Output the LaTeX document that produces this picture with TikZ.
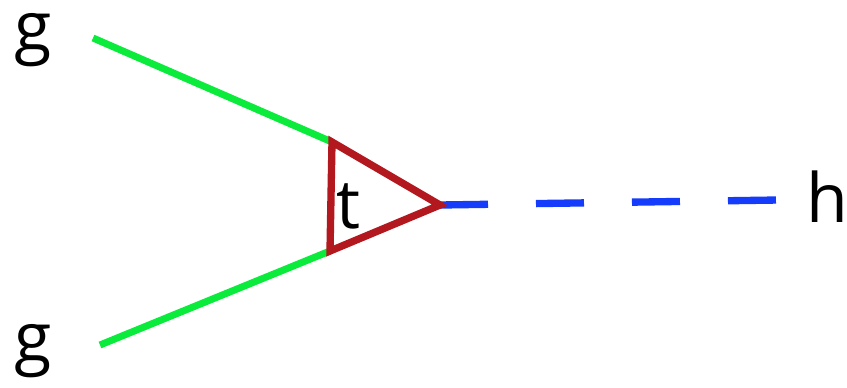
\documentclass[tikz,border=0pt]{standalone}
\usepackage{fontspec}
\setmainfont{Open Sans}
\definecolor{gluon}{RGB}{10,235,60}
\definecolor{topq}{RGB}{178,24,30}
\definecolor{higgs}{RGB}{20,60,250}
\tikzset{
  lbl/.style={anchor=base west,inner sep=0pt,font=\fontsize{51}{51}\selectfont},
  gluonline/.style={gluon,line width=5.25pt},
  looptop/.style={topq,line width=5.5pt,line join=miter},
  higgsline/.style={higgs,line width=5.5pt,dash pattern=on 36pt off 36pt}
}
\begin{document}
\begin{tikzpicture}[x=0.75pt,y=-0.75pt]
  \useasboundingbox (0,0) rectangle (847,387);
  \node[lbl] (g1) at (14,50) {g};
  \node[lbl] (g2) at (14,361) {g};
  \node[lbl] (h) at (806,222) {h};
  \node[lbl] (t) at (336,228) {t};
  \coordinate (a) at (332,142);
  \coordinate (b) at (330,251);
  \coordinate (c) at (440,205);
  \coordinate (g1end) at (93,38);
  \coordinate (g2end) at (100,345);
  \coordinate (hend) at (778,200);
  \draw[gluonline] (g1end) -- (a);
  \draw[gluonline] (g2end) -- (b);
  \draw[higgsline] (c) -- (hend);
  \draw[looptop] (a) -- (c) -- (b) -- cycle;
\end{tikzpicture}
\end{document}
